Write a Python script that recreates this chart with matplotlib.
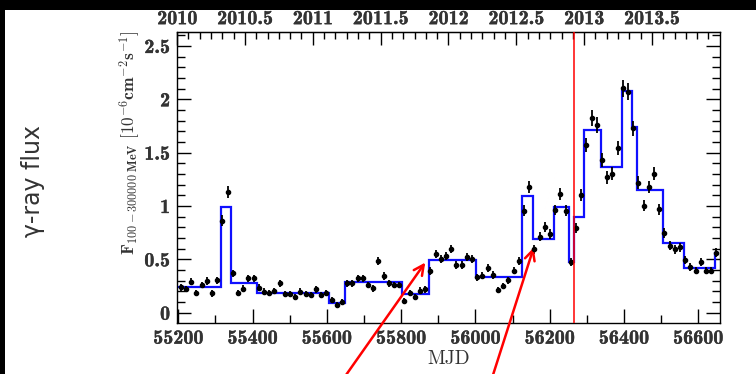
import matplotlib
matplotlib.use("Agg")
import matplotlib.pyplot as plt
import matplotlib.patheffects as pe
from matplotlib.patches import Rectangle
from matplotlib.ticker import MultipleLocator, FixedLocator, FuncFormatter

plt.rcParams["mathtext.fontset"] = "cm"

# two-week light curve bins (MJD), flux in 1e-6 ph cm^-2 s^-1
mjd = [55207, 55221, 55235, 55249, 55263, 55277, 55291, 55305, 55319, 55333,
       55347, 55361, 55375, 55389, 55403, 55417, 55431, 55445, 55459, 55473,
       55487, 55501, 55515, 55529, 55543, 55557, 55571, 55585, 55599, 55613,
       55627, 55641, 55655, 55669, 55683, 55697, 55711, 55725, 55739, 55753,
       55767, 55781, 55795, 55809, 55823, 55837, 55851, 55865, 55879, 55893,
       55907, 55921, 55935, 55949, 55963, 55977, 55991, 56005, 56019, 56033,
       56047, 56061, 56075, 56089, 56103, 56117, 56131, 56145, 56159, 56173,
       56187, 56201, 56215, 56229, 56243, 56257, 56271, 56285, 56299, 56313,
       56327, 56341, 56355, 56369, 56383, 56397, 56411, 56425, 56439, 56453,
       56467, 56481, 56495, 56509, 56523, 56537, 56551, 56565, 56579, 56593,
       56607, 56621, 56635, 56649]
flux = [0.238, 0.222, 0.290, 0.187, 0.260, 0.297, 0.180, 0.306, 0.862, 1.134,
        0.369, 0.187, 0.225, 0.322, 0.322, 0.234, 0.197, 0.182, 0.203, 0.275,
        0.175, 0.175, 0.150, 0.197, 0.175, 0.166, 0.219, 0.166, 0.185, 0.119,
        0.072, 0.103, 0.275, 0.275, 0.322, 0.322, 0.260, 0.229, 0.487, 0.344,
        0.275, 0.260, 0.260, 0.113, 0.187, 0.150, 0.206, 0.219, 0.390, 0.550,
        0.500, 0.531, 0.597, 0.444, 0.444, 0.525, 0.506, 0.331, 0.347, 0.416,
        0.353, 0.213, 0.250, 0.306, 0.394, 0.487, 0.956, 1.175, 0.594, 0.712,
        0.806, 0.738, 0.962, 1.112, 0.956, 0.478, 0.791, 1.103, 1.572, 1.822,
        1.759, 1.431, 1.269, 1.300, 1.545, 2.103, 2.072, 1.728, 1.219, 1.003,
        1.175, 1.300, 0.969, 0.744, 0.628, 0.594, 0.613, 0.494, 0.431, 0.394,
        0.472, 0.394, 0.394, 0.562]
flux_err = [0.032, 0.031, 0.033, 0.030, 0.032, 0.033, 0.030, 0.033, 0.050, 0.055,
            0.035, 0.030, 0.031, 0.034, 0.034, 0.031, 0.030, 0.030, 0.030, 0.032,
            0.030, 0.030, 0.029, 0.030, 0.030, 0.029, 0.031, 0.029, 0.030, 0.028,
            0.027, 0.028, 0.032, 0.032, 0.034, 0.034, 0.032, 0.031, 0.038, 0.035,
            0.032, 0.032, 0.032, 0.028, 0.030, 0.029, 0.031, 0.031, 0.035, 0.040,
            0.038, 0.039, 0.041, 0.037, 0.037, 0.039, 0.039, 0.034, 0.034, 0.036,
            0.034, 0.031, 0.032, 0.033, 0.036, 0.038, 0.050, 0.057, 0.041, 0.044,
            0.047, 0.045, 0.051, 0.055, 0.051, 0.038, 0.046, 0.055, 0.068, 0.074,
            0.072, 0.064, 0.060, 0.061, 0.067, 0.082, 0.081, 0.072, 0.059, 0.053,
            0.057, 0.061, 0.052, 0.045, 0.042, 0.041, 0.042, 0.038, 0.037, 0.036,
            0.038, 0.036, 0.036, 0.040]

# Bayesian block edges and block fluxes
block_edges = [55197, 55314, 55342, 55412, 55606, 55650, 55803, 55874, 56001,
               56126, 56154, 56211, 56252, 56265, 56293, 56337, 56394, 56421,
               56434, 56504, 56562, 56646, 56657]
block_flux = [0.244, 0.994, 0.281, 0.187, 0.094, 0.288, 0.175, 0.494, 0.338,
              1.094, 0.688, 0.994, 0.478, 0.900, 1.712, 1.369, 2.081, 1.744,
              1.150, 0.650, 0.416, 0.562]

vline_mjd = 56265

# calendar-year labels along the top
year_ticks = [2010, 2010.5, 2011, 2011.5, 2012, 2012.5, 2013, 2013.5]

# arrows: (tip, tail) in MJD / flux
arrows = [((55865, 0.47), (55642, -0.632)),
          ((56157, 0.61), (56043, -0.632))]


def mjd2yr(m):
    return 2010.0 + (m - 55197.0) / 365.25


def yr2mjd(y):
    return 55197.0 + (y - 2010.0) * 365.25


W, H = 756, 374
x0, x1 = 55196.6, 56657.5
px_per_day = 0.3714
left = 177.0
fig = plt.figure(figsize=(W / 100, H / 100), dpi=100)
ax = fig.add_axes([left / W, 1 - 322.7 / H, (x1 - x0) * px_per_day / W, (322.7 - 32.3) / H])

# black frame strips along the top and left edges
fig.patches.append(Rectangle((0, 1 - 10 / H), 1, 10 / H, transform=fig.transFigure,
                             facecolor="black", edgecolor="none", zorder=-1))
fig.patches.append(Rectangle((0, 0), 5 / W, 1, transform=fig.transFigure,
                             facecolor="black", edgecolor="none", zorder=-1))

ax.stairs(block_flux, block_edges, color="#1010ff", linewidth=1.6, baseline=None, zorder=2)
ax.errorbar(mjd, flux, yerr=flux_err, fmt="o", color="black", ms=3.0,
            elinewidth=1.3, capsize=0, zorder=3)
ax.axvline(vline_mjd, color="red", linewidth=1.1, zorder=4)

ax.set_xlim(x0, x1)
ax.set_ylim(-0.094, 2.628)

bold = [pe.withStroke(linewidth=0.25, foreground="#333333")]
tick_font = {"family": "cmb10", "size": 14.5}
ax.xaxis.set_major_locator(MultipleLocator(200))
ax.xaxis.set_minor_locator(MultipleLocator(100))
ax.yaxis.set_major_locator(MultipleLocator(0.5))
ax.yaxis.set_minor_locator(MultipleLocator(0.1))
ax.yaxis.set_major_formatter(FuncFormatter(lambda v, pos: "%g" % round(v, 2)))
ax.tick_params(which="both", direction="in", right=True, top=False, width=1.0,
               labelcolor="#333333")
ax.tick_params(which="major", length=10, pad=5)
ax.tick_params(which="minor", length=6)
for lab in ax.get_xticklabels() + ax.get_yticklabels():
    lab.set_fontfamily(tick_font["family"])
    lab.set_fontsize(tick_font["size"])
    lab.set_path_effects(bold)

sec = ax.secondary_xaxis("top", functions=(mjd2yr, yr2mjd))
sec.xaxis.set_major_locator(FixedLocator(year_ticks))
sec.xaxis.set_minor_locator(MultipleLocator(1 / 12))
sec.xaxis.set_major_formatter(FuncFormatter(lambda v, pos: "%g" % round(v, 2)))
sec.tick_params(which="both", direction="in", width=1.0, labelcolor="#333333")
sec.tick_params(which="major", length=9, pad=3)
sec.tick_params(which="minor", length=5)
for lab in sec.get_xticklabels():
    lab.set_fontfamily(tick_font["family"])
    lab.set_fontsize(tick_font["size"])
    lab.set_path_effects(bold)

for sp in ax.spines.values():
    sp.set_linewidth(1.0)

ax.set_xlabel("MJD", family="cmr10", fontsize=14, labelpad=2, color="#333333")

fig.text(130 / W, 1 - 30 / H,
         r"$\mathbf{F_{100-300000\ MeV}\ [10^{-6}cm^{-2}s^{-1}]}$",
         rotation=90, ha="center", va="top", fontsize=12.5, color="#333333")
fig.text(33 / W, 1 - 181 / H, "γ-ray flux", rotation=90, ha="center", va="center",
         fontsize=17, family="DejaVu Sans", color="#333333")

for tip, tail in arrows:
    ax.annotate("", xy=tip, xytext=tail, xycoords="data", textcoords="data",
                annotation_clip=False,
                arrowprops=dict(arrowstyle="->", color="red", lw=1.8,
                                mutation_scale=18, shrinkA=0, shrinkB=0))

fig.savefig("out.png", dpi=100)
